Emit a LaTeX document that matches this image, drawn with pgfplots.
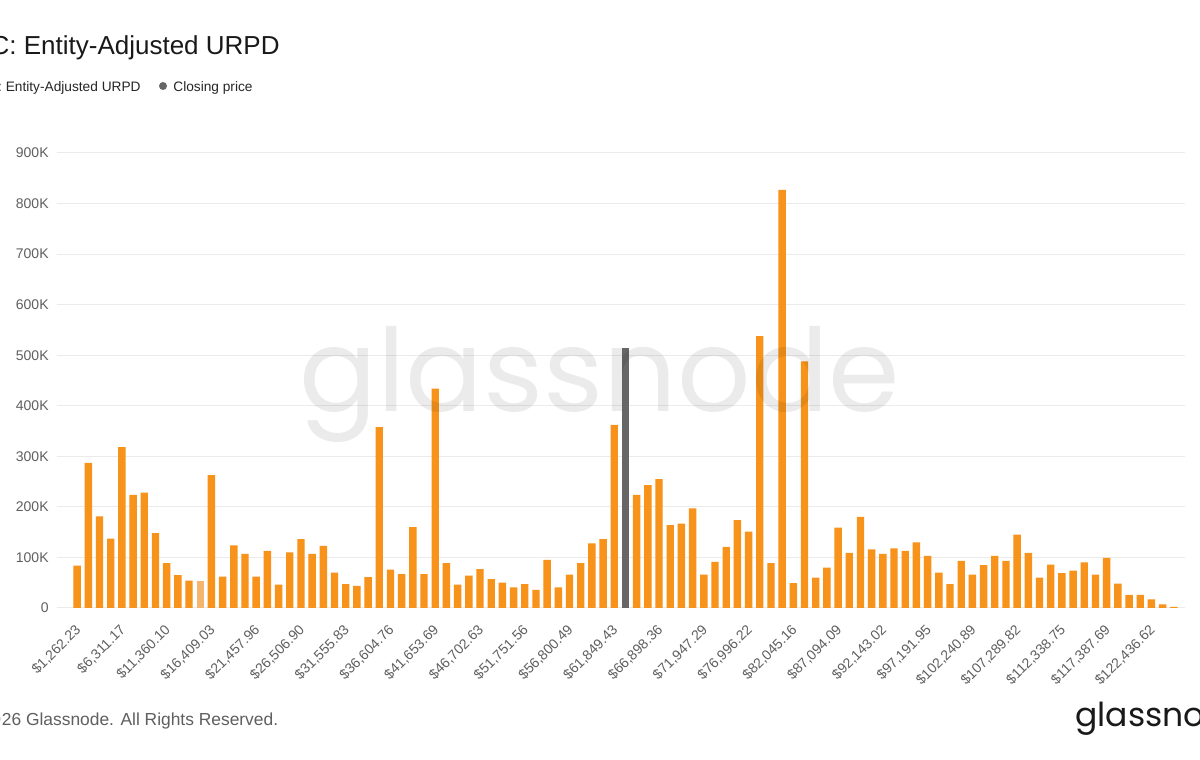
\documentclass[border=0pt]{standalone}
\usepackage{pgfplots}
\pgfplotsset{compat=1.18}
\usepackage{fontspec}
\setmainfont{Liberation Sans}
\newfontfamily\logofont{Poppins}
\definecolor{btc}{HTML}{F7931A}
\definecolor{btclight}{HTML}{F6B56E}
\definecolor{closegray}{HTML}{666666}
\definecolor{txtgray}{HTML}{5F5F5F}
\begin{document}
\begin{tikzpicture}[x=0.5pt,y=0.5pt]
\path[use as bounding box, clip] (0,0) rectangle (1200,760);
\fill[white] (0,0) rectangle (1200,760);
% title
\node[anchor=base east, inner sep=0, font=\fontsize{13}{15}\selectfont, text=black!90] at (280,705) {BTC: Entity-Adjusted URPD};
% legend
\node[anchor=base east, inner sep=0, font=\fontsize{6.85}{8}\selectfont, text=black!85] at (141,668) {BTC: Entity-Adjusted URPD};
\fill[closegray] (163,674) circle[radius=4];
\node[anchor=base west, inner sep=0, font=\fontsize{6.85}{8}\selectfont, text=black!85] at (173,668) {Closing price};
\begin{axis}[
  at={(28.5pt,76pt)}, anchor=south west,
  width=564pt, height=227.5pt, scale only axis,
  xmin=-1.8, xmax=99, ymin=0, ymax=900,
  ybar, bar width=0.66, bar shift=0pt,
  axis line style={draw=none},
  ytick={0,100,...,900},
  yticklabels={0,100K,200K,300K,400K,500K,600K,700K,800K,900K},
  ymajorgrids, grid style={color=black!8, line width=0.5pt},
  xtick={0,4,...,96},
  xticklabels={{\$1,262.23},{\$6,311.17},{\$11,360.10},{\$16,409.03},{\$21,457.96},{\$26,506.90},{\$31,555.83},{\$36,604.76},{\$41,653.69},{\$46,702.63},{\$51,751.56},{\$56,800.49},{\$61,849.43},{\$66,898.36},{\$71,947.29},{\$76,996.22},{\$82,045.16},{\$87,094.09},{\$92,143.02},{\$97,191.95},{\$102,240.89},{\$107,289.82},{\$112,338.75},{\$117,387.69},{\$122,436.62}},
  major tick length=0,
  tick label style={font=\fontsize{7}{8}\selectfont, text=txtgray},
  xticklabel style={rotate=45, anchor=north east, inner sep=0pt, xshift=-6.4pt, yshift=-4.2pt},
  yticklabel style={anchor=east, inner sep=0pt, xshift=-4pt},
  clip=false,
]
\addplot[fill=btc, draw=none] coordinates {
(0,84)(1,287)(2,181)(3,137)(4,318)(5,224)(6,228)(7,148)(8,89)(9,65)(10,54)
(12,263)(13,62)(14,124)(15,107)(16,62)(17,113)(18,46)(19,110)(20,136)
(21,107)(22,123)(23,70)(24,47)(25,44)(26,61)(27,358)(28,76)(29,67)(30,160)
(31,67)(32,434)(33,89)(34,46)(35,64)(36,77)(37,57)(38,50)(39,41)(40,47)
(41,36)(42,95)(43,41)(44,66)(45,89)(46,128)(47,136)(48,362)
(50,224)(51,243)(52,255)(53,164)(54,167)(55,197)(56,66)(57,91)(58,121)(59,174)(60,151)
(61,538)(62,89)(63,827)(64,49)(65,488)(66,60)(67,80)(68,159)(69,109)(70,180)
(71,116)(72,107)(73,118)(74,113)(75,130)(76,103)(77,70)(78,47)(79,93)(80,66)
(81,85)(82,103)(83,93)(84,145)(85,109)(86,60)(87,86)(88,69)(89,74)(90,90)
(91,66)(92,99)(93,48)(94,26)(95,26)(96,17)(97,7)(98,2)
};
\addplot[fill=btclight, draw=none] coordinates {(11,54)};
\addplot[fill=closegray, draw=none] coordinates {(49,514)};
\end{axis}
% watermark
\node[anchor=base, inner sep=0, text=black, text opacity=0.08] at (600,348) {\resizebox{300pt}{!}{\logofont glassnode}};
% footer
\node[anchor=base east, inner sep=0, font=\fontsize{8.7}{10}\selectfont, text=txtgray] at (1.5,34) {\textcopyright{} 20};
\node[anchor=base west, inner sep=0, font=\fontsize{8.7}{10}\selectfont, text=txtgray] at (1.5,34) {26 Glassnode. All Rights Reserved.};
\node[anchor=base west, inner sep=0, font=\logofont\fontsize{16.5}{18}\selectfont, text=black!90] at (1075,33) {glassnode};
\end{tikzpicture}
\end{document}
